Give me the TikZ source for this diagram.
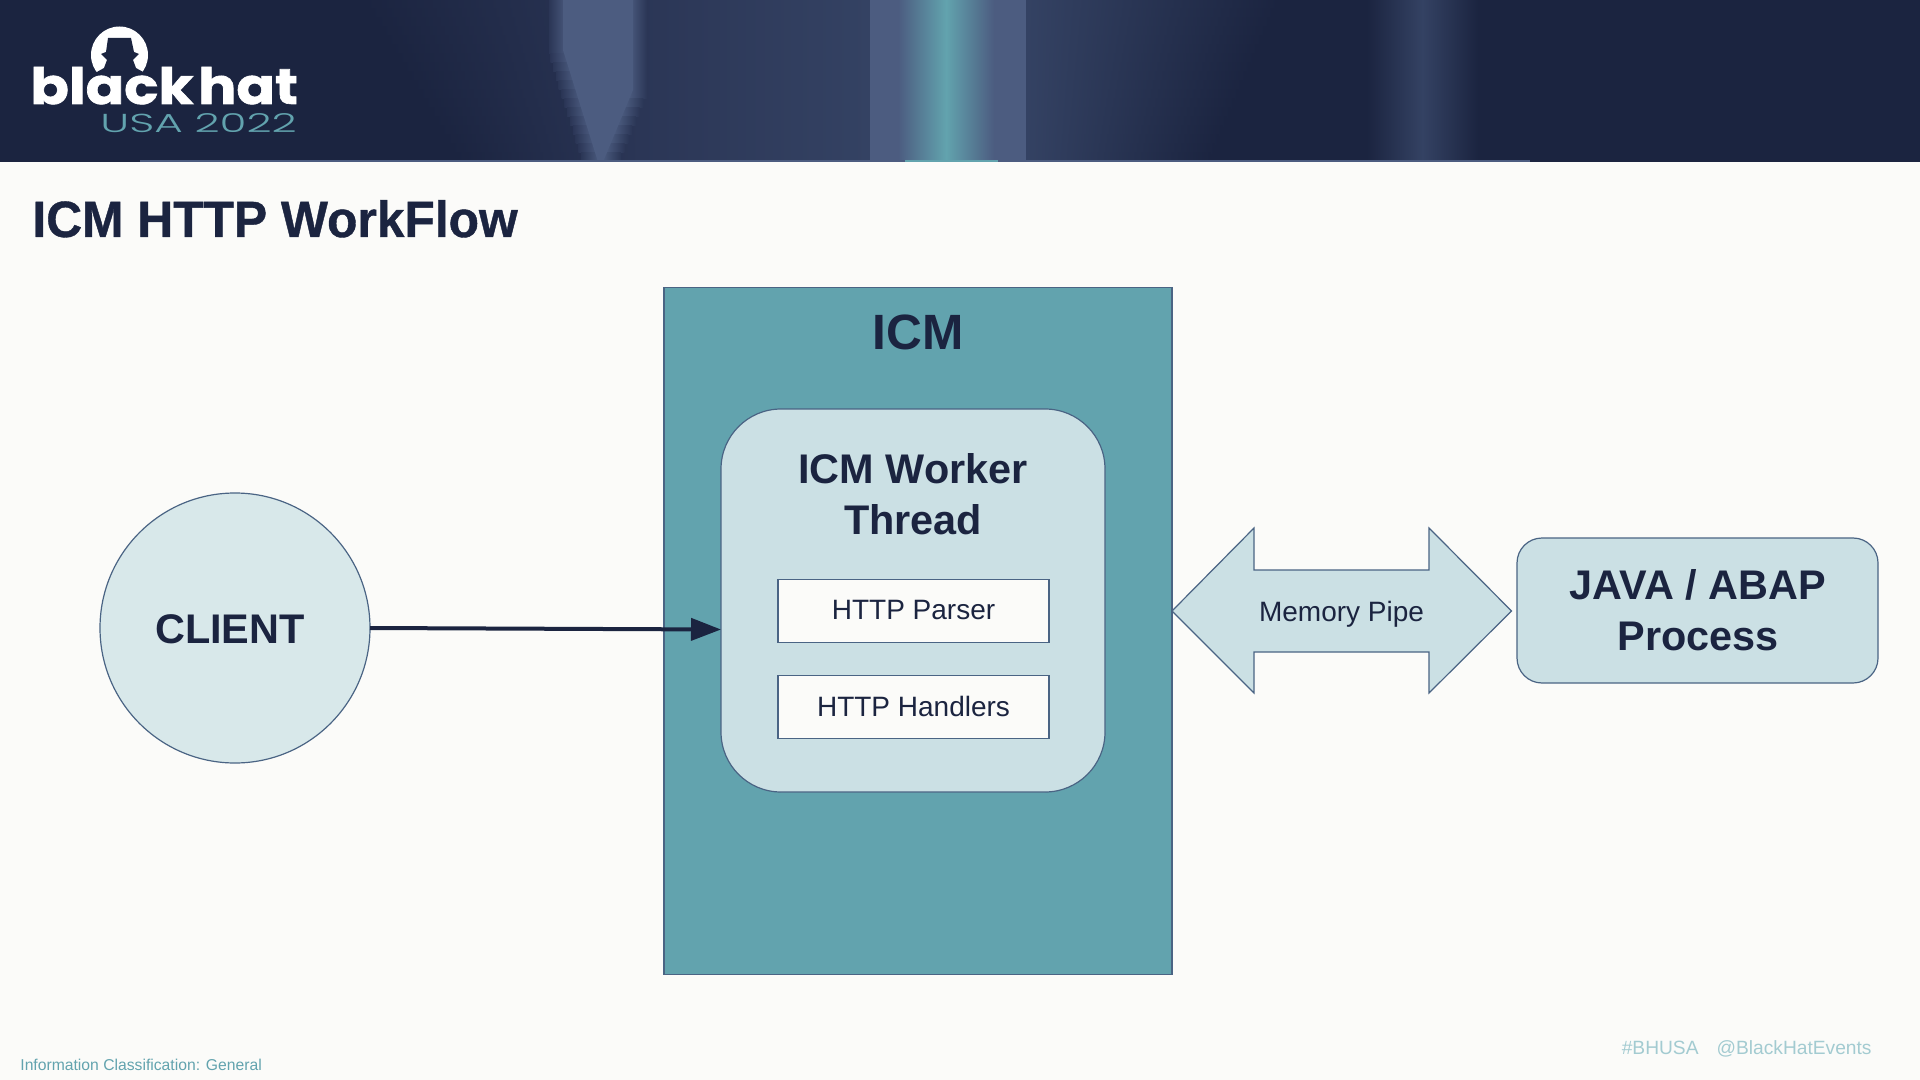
\documentclass[tikz,border=0pt]{standalone}
\usepackage{fontspec}
\setmainfont{Liberation Sans}
\newfontfamily\logofont[UprightFont=* Bold,FakeBold=1.2]{Poppins}
\newfontfamily\yearfont{Poppins Light}
\newfontfamily\titlefont[UprightFont=* Bold,FakeBold=0.8]{Liberation Sans}
\usetikzlibrary{arrows.meta}
\definecolor{navy}{HTML}{1B2440}
\definecolor{paper}{HTML}{FBFBF9}
\definecolor{teal1}{HTML}{62A3AE}
\definecolor{band}{HTML}{4C5C80}
\definecolor{glow}{HTML}{344263}
\definecolor{glowdim}{HTML}{2B3656}
\definecolor{edge}{HTML}{4A6484}
\definecolor{lightfill}{HTML}{CBE0E4}
\definecolor{paler}{HTML}{D8E8EA}
\definecolor{footteal}{HTML}{A3CBD1}
\tikzset{
  x=0.5pt,y=-0.5pt,
  shapeline/.style={draw=edge,line width=0.6pt,outer sep=0pt,inner sep=0pt},
  inkbold/.style={text=navy,font=\fontsize{20.7}{25.5}\selectfont\bfseries,align=center},
  inkplain/.style={text=navy,font=\fontsize{14}{17}\selectfont},
  subbox/.style={shapeline,fill=paper,minimum width=135.5pt,minimum height=31.5pt,text height=8.5pt,text depth=0pt,inkplain},
  linkarrow/.style={navy,line width=2pt,-{Triangle[length=15pt,width=11pt]}},
  labeltext/.style={anchor=base,inner sep=0pt}
}
\begin{document}
\begin{tikzpicture}
\useasboundingbox (0,0) rectangle (1920,1080);
\fill[paper] (0,0) rectangle (1920,1080);
% header
\fill[navy] (0,0) rectangle (1920,162);
\begin{scope}
\clip (0,0) rectangle (1920,162);
\foreach \rowtop in {0,9,...,153}{
  \pgfmathsetmacro{\rowbot}{\rowtop+9.3}
  \pgfmathsetmacro{\glowl}{363+98*\rowtop/162}
  \pgfmathsetmacro{\glowr}{1278-71*\rowtop/162}
  \shade[left color=navy,right color=glowdim] (\glowl,\rowtop) rectangle (640,\rowbot);
  \shade[left color=glow,right color=navy] (1026,\rowtop) rectangle (\glowr,\rowbot);
}
\shade[left color=glowdim,right color=glow] (640,0) rectangle (870,162);
\foreach \rowtop in {0,9,...,153}{
  \pgfmathsetmacro{\rowbot}{\rowtop+9}
  \pgfmathsetmacro{\bandl}{563+max(0,\rowtop-50)*35/112}
  \pgfmathsetmacro{\bandr}{633-max(0,\rowtop-90)*30/72}
  \shade[left color=glowdim,right color=band] (\bandl-14,\rowtop) rectangle (\bandl+5,\rowbot);
  \shade[left color=band,right color=glowdim] (\bandr-5,\rowtop) rectangle (\bandr+14,\rowbot);
}
\fill[band] (563,0) -- (633,0) -- (633,90) -- (603,162) -- (598,162) -- (563,50) -- cycle;
\shade[left color=navy,right color=navy,middle color=glow] (1367,0) rectangle (1478,162);
\fill[band] (870,0) rectangle (1026,162);
\shade[left color=band,right color=band,middle color=teal1] (898,0) rectangle (994,162);
\fill[band] (140,160.5) rectangle (1530,162);
\fill[teal1] (905,160.5) rectangle (998,162);
\end{scope}
% logo
\fill[white] (119.5,55) circle[radius=28.5];
\fill[navy] (85,72.5) rectangle (155,90);
\fill[navy] (108,38) -- (131,38) -- (134,52) -- (139,54) -- (133,60) -- (136,68) -- (144,72.5) -- (96,72.5) -- (104,68) -- (107,60) -- (101,54) -- (106,52) -- cycle;
\node[labeltext,anchor=base west,text=white,font=\logofont\fontsize{25}{25}\selectfont] (logoname) at (30,104) {\scalebox{1.135}[1]{black\hspace{2pt}hat}};
\node[labeltext,anchor=base east,text=teal1,font=\yearfont\fontsize{13}{13}\selectfont] (logoyear) at (297,133) {\scalebox{1.68}[1]{USA 2022}};
% title
\node[labeltext,anchor=base west,text=navy,font=\titlefont\fontsize{25.5}{30}\selectfont] (title) at (32,237) {\scalebox{0.975}[1]{ICM HTTP WorkFlow}};
% client
\node[shapeline,circle,fill=paler,minimum size=135pt] (client) at (235,628) {};
\node[labeltext,inkbold] (clientlabel) at (230,643) {CLIENT};
% ICM
\node[shapeline,fill=teal1,minimum width=254pt,minimum height=343.5pt] (icm) at (918,631) {};
\node[labeltext,text=navy,font=\fontsize{24.8}{30}\selectfont\bfseries] (icmlabel) at (918,350) {ICM};
\node[shapeline,rounded corners=30pt,fill=lightfill,minimum width=192pt,minimum height=191.5pt] (worker) at (913,600.5) {};
\node[labeltext,inkbold] (workerlabel) at (913,534) {ICM Worker\\Thread};
\node[subbox] (parser) at (913.5,611) {HTTP Parser};
\node[subbox,text height=9.5pt] (handlers) at (913.5,707) {HTTP Handlers};
% arrow
\coordinate (workerin) at ([yshift=-14.5pt]worker.west);
\draw[linkarrow] (client.east) -- (workerin);
% memory pipe
\draw[draw=edge,line width=0.6pt,fill=lightfill,line join=miter]
  (1172,611) -- (1254,528) -- (1254,570) -- (1429,570) -- (1429,528) -- (1511.5,611) -- (1429,693) -- (1429,652) -- (1254,652) -- (1254,693) -- cycle;
\node[labeltext,inkplain] (pipe) at (1341.5,621) {Memory Pipe};
% java
\node[shapeline,rounded corners=12.5pt,fill=lightfill,minimum width=180.5pt,minimum height=72.5pt] (java) at (1697.5,610.5) {};
\node[labeltext,inkbold] (javalabel) at (1698,650) {JAVA / ABAP\\Process};
% footer
\node[labeltext,anchor=base west,text=teal1,font=\fontsize{7.85}{9}\selectfont] (classif) at (20,1070) {Information Classification: General};
\node[labeltext,anchor=base east,text=footteal,font=\fontsize{9.6}{11}\selectfont] (tags) at (1872,1054) {\#BHUSA\hspace{9pt}@BlackHatEvents};
\end{tikzpicture}
\end{document}
